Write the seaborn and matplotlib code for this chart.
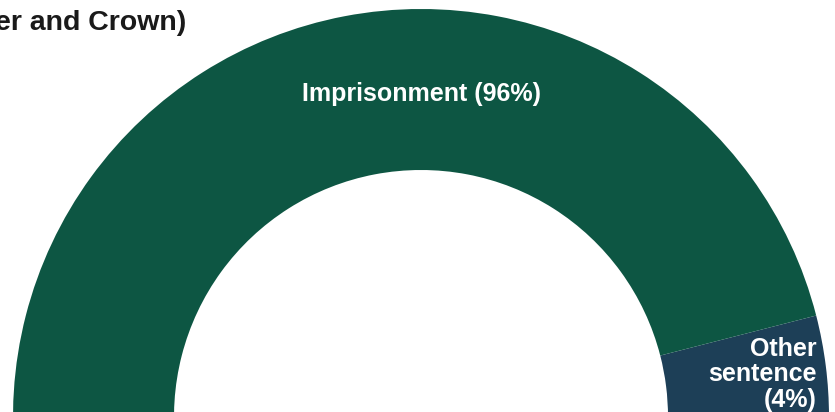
import matplotlib.pyplot as plt
import seaborn as sns

# --- Data ---
sentence_types = ["Other sentence", "Imprisonment"]
shares = [4, 96]
slice_colors = ["#1D3F57", "#0D5643"]
slice_labels = ["Other\nsentence\n(4%)", "Imprisonment (96%)"]
title_text = "er and Crown)"

# --- Style ---
sns.set_theme(style="white")
plt.rcParams['font.family'] = ['Liberation Sans', 'DejaVu Sans']

fig = plt.figure(figsize=(8.35, 4.12), dpi=100)
ax = fig.add_axes([0, 0, 1, 1])

# donut, only its top part is in view
ax.pie(shares, colors=slice_colors, startangle=0, counterclock=True,
       radius=408, center=(421, -5), frame=True,
       wedgeprops=dict(width=161, linewidth=0))
ax.set_xlim(0, 835)
ax.set_ylim(0, 412)
ax.set_aspect('auto')
ax.axis('off')

# --- Labels ---
ax.text(421, 318, slice_labels[1], ha='center', va='center',
        fontsize=18, weight='bold', color='white')
ax.text(817, 5, slice_labels[0], ha='right', ma='right', va='baseline',
        linespacing=1.08, fontsize=18, weight='bold', color='white')
ax.text(186, 382, title_text, ha='right', va='baseline',
        fontsize=20.5, weight='bold', color='#1a1a1a')

plt.savefig("out.png", dpi=100, facecolor='white')
